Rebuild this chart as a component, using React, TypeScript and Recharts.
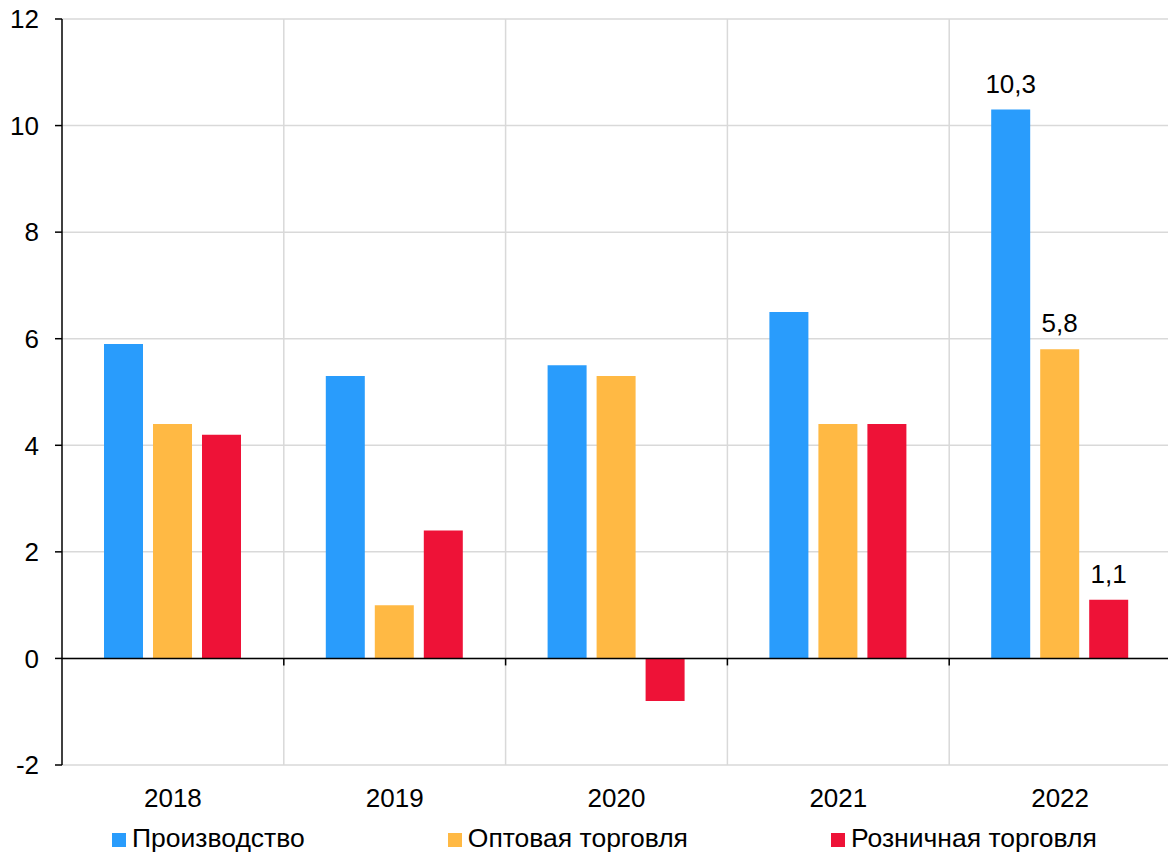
import React from "react";
import { BarChart, Bar, XAxis, YAxis, CartesianGrid, ReferenceLine, LabelList } from "recharts";

const years = ["2018", "2019", "2020", "2021", "2022"];
const production = [5.9, 5.3, 5.5, 6.5, 10.3];
const wholesale = [4.4, 1.0, 5.3, 4.4, 5.8];
const retail = [4.2, 2.4, -0.8, 4.4, 1.1];
const yTicks = [-2, 0, 2, 4, 6, 8, 10, 12];

const seriesNames = ["Производство", "Оптовая торговля", "Розничная торговля"];
const seriesKeys = ["production", "wholesale", "retail"];
const seriesColors = ["#299cfc", "#ffb944", "#ee1237"];

const data = years.map((year, i) => ({
  year,
  production: production[i],
  wholesale: wholesale[i],
  retail: retail[i],
}));

const FONT = "'Liberation Sans', Arial, sans-serif";
const FS = 26;
const W = 1168;
const CHART_W = 1171;
const H = 858;
const labelledIndex = years.length - 1;

const fmt = (v: number) => String(v).replace(".", ",");

// value labels only on the latest year
const lastLabel = (props: any) => {
  const { x, y, width, value, index } = props;
  if (index !== labelledIndex) return null;
  return (
    <text
      x={x + width / 2}
      y={y - 17}
      textAnchor="middle"
      fontSize={FS}
      fontFamily={FONT}
      fill="#000"
    >
      {fmt(value)}
    </text>
  );
};

// zero line with small downward ticks between the year groups
const zeroLine = (props: any) => {
  const { x1, x2, y1 } = props;
  const step = (x2 - x1) / years.length;
  return (
    <g>
      <line x1={x1} x2={x2} y1={y1} y2={y1} stroke="#000" strokeWidth={1.5} />
      {years.slice(1).map((_, i) => {
        const x = x1 + step * (i + 1);
        return <line key={i} x1={x} x2={x} y1={y1} y2={y1 + 7} stroke="#000" strokeWidth={1.5} />;
      })}
    </g>
  );
};

export default function App() {
  return (
    <div
      style={{
        position: "absolute",
        left: 0,
        top: 0,
        width: W,
        height: H,
        overflow: "hidden",
        background: "#fff",
        fontFamily: FONT,
      }}
    >
      <BarChart
        width={CHART_W}
        height={H}
        data={data}
        margin={{ top: 19, right: 0, left: 0, bottom: 43 }}
        barGap={10}
        barSize={39}
      >
        <CartesianGrid
          stroke="#d9d9d9"
          strokeWidth={1.5}
          verticalCoordinatesGenerator={({ offset }: any) =>
            years.map((_, i) => offset.left + (offset.width / years.length) * (i + 1))
          }
        />
        <XAxis
          dataKey="year"
          axisLine={false}
          tickLine={false}
          tickSize={0}
          tickMargin={24}
          height={50}
          interval={0}
          tick={{ fontSize: FS, fill: "#000", fontFamily: FONT }}
        />
        <YAxis
          width={62}
          domain={[-2, 12]}
          ticks={yTicks}
          interval={0}
          allowDataOverflow
          axisLine={{ stroke: "#000", strokeWidth: 1.5 }}
          tickLine={{ stroke: "#000", strokeWidth: 1.5 }}
          tickSize={7}
          tickMargin={16}
          tick={{ fontSize: FS, fill: "#000", fontFamily: FONT }}
        />
        {seriesKeys.map((k, i) => (
          <Bar key={k} dataKey={k} name={seriesNames[i]} fill={seriesColors[i]} isAnimationActive={false}>
            <LabelList dataKey={k} content={lastLabel} />
          </Bar>
        ))}
        <ReferenceLine y={0} shape={zeroLine} />
      </BarChart>
      <div
        style={{
          position: "absolute",
          left: 112,
          top: 823,
          display: "flex",
          gap: 143,
          fontSize: 26.5,
          lineHeight: "30px",
          color: "#000",
          whiteSpace: "nowrap",
        }}
      >
        {seriesNames.map((n, i) => (
          <div key={n} style={{ display: "flex", alignItems: "center" }}>
            <span style={{ display: "inline-block", width: 14, height: 14, background: seriesColors[i], marginRight: 6, marginTop: 3 }} />
            <span>{n}</span>
          </div>
        ))}
      </div>
    </div>
  );
}
